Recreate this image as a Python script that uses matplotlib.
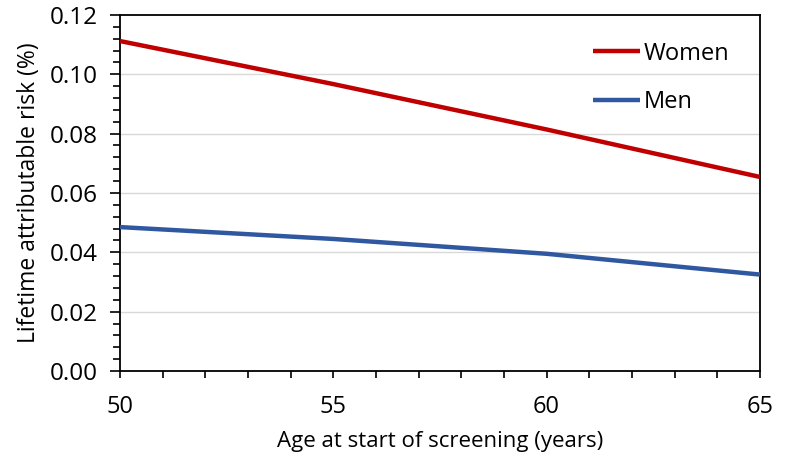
import matplotlib
matplotlib.use("Agg")
import matplotlib.pyplot as plt
from matplotlib.ticker import MultipleLocator

ages = [50, 55, 60, 65]
women = [0.1112, 0.0967, 0.0814, 0.0654]
men = [0.0485, 0.0445, 0.0395, 0.0325]
x_ticks = [50, 55, 60, 65]
y_ticks = [0.00, 0.02, 0.04, 0.06, 0.08, 0.10, 0.12]

plt.rcParams['font.family'] = ['Open Sans', 'DejaVu Sans']

fig = plt.figure(figsize=(7.85, 4.67), dpi=100)
ax = fig.add_axes([0.1529, 0.2056, 0.8151, 0.7624])

ax.plot(ages, women, color='#C00000', lw=3.2, label='Women', solid_capstyle='butt', zorder=3)
ax.plot(ages, men, color='#2F58A0', lw=3.2, label='Men', solid_capstyle='butt', zorder=3)

ax.set_xlim(50, 65)
ax.set_ylim(0, 0.12)
ax.set_xticks(x_ticks)
ax.set_xticklabels([str(v) for v in x_ticks])
ax.xaxis.set_minor_locator(MultipleLocator(1))
ax.set_yticks(y_ticks)
ax.set_yticklabels([f"{v:.2f}" for v in y_ticks])
ax.yaxis.set_minor_locator(MultipleLocator(0.004))

for yv in y_ticks[1:-1]:
    ax.axhline(yv, color='#D9D9D9', lw=1.0, zorder=1)

ax.tick_params(axis='both', which='both', direction='out', color='black', width=1.2)
ax.tick_params(axis='x', which='both', length=5, pad=12, labelsize=17)
ax.tick_params(axis='y', which='major', length=7, pad=9, labelsize=17.5)
ax.tick_params(axis='y', which='minor', length=5)
for s in ax.spines.values():
    s.set_color('black')
    s.set_linewidth(1.3)

ax.set_xlabel('Age at start of screening (years)', fontsize=16, labelpad=9)
ax.set_ylabel('Lifetime attributable risk (%)', fontsize=16.5, labelpad=6)

leg = ax.legend(loc='upper right', bbox_to_anchor=(0.985, 0.985), frameon=False,
                fontsize=17, handlelength=2.0, handletextpad=0.15, labelspacing=1.05)

fig.savefig('out.png', dpi=100)
